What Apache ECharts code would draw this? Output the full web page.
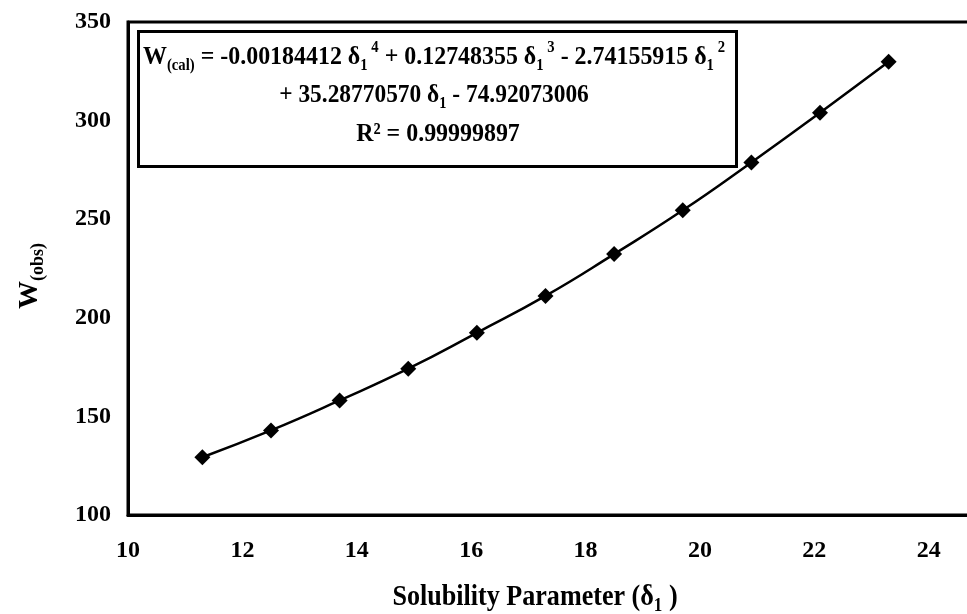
<!DOCTYPE html>
<html>
<head>
<meta charset="utf-8">
<script src="https://cdn.jsdelivr.net/npm/echarts@6/dist/echarts.min.js"></script>
<style>
  html, body { margin: 0; padding: 0; background: #fff; }
  #chart { width: 967px; height: 614px; }
</style>
</head>
<body>
<div id="chart"></div>
<script>
var delta1 = [11.3, 12.5, 13.7, 14.9, 16.1, 17.3, 18.5, 19.7, 20.9, 22.1, 23.3];
var wObs = [129.3, 142.9, 158.1, 174.2, 192.4, 211.1, 232.3, 254.5, 278.8, 304.0, 329.8];

var serif = '"Liberation Serif", "DejaVu Serif", serif';

var chart = echarts.init(document.getElementById('chart'));
var points = delta1.map(function (x, i) { return [x, wObs[i]]; });

// rich styles for the equation box (main text, subscript, superscript)
var eqRich = {
  b: { fontFamily: serif, fontWeight: 'bold', fontSize: 26, color: '#000', lineHeight: 34 },
  sub: { fontFamily: serif, fontWeight: 'bold', fontSize: 16, color: '#000', lineHeight: 14, verticalAlign: 'bottom' },
  sup: { fontFamily: serif, fontWeight: 'bold', fontSize: 16, color: '#000', lineHeight: 16, verticalAlign: 'top' }
};

chart.setOption({
  animation: false,
  grid: {
    left: 128, top: 22, bottom: 99, right: -76,
    outerBoundsMode: 'none',
    containLabel: false,
    show: true, borderColor: '#000', borderWidth: 3, backgroundColor: 'transparent'
  },
  xAxis: {
    type: 'value', min: 10, max: 26, interval: 2,
    axisLine: { show: true, lineStyle: { color: '#000', width: 3 } },
    axisTick: { show: false },
    splitLine: { show: false },
    axisLabel: { color: '#000', fontFamily: serif, fontWeight: 'bold', fontSize: 24, margin: 24 }
  },
  yAxis: {
    type: 'value', min: 100, max: 350, interval: 50,
    axisLine: { show: true, lineStyle: { color: '#000', width: 3 } },
    axisTick: { show: false },
    splitLine: { show: false },
    axisLabel: { color: '#000', fontFamily: serif, fontWeight: 'bold', fontSize: 24, margin: 17 }
  },
  graphic: [
    {
      type: 'rect', left: 137, top: 30,
      shape: { width: 598, height: 135 },
      style: { fill: '#fff', stroke: '#000', lineWidth: 3 }
    },
    {
      type: 'text', x: 143, y: 57, scaleX: 0.92,
      style: {
        text: '{b|W}{sub|(cal)}{b| = -0.00184412 δ}{sub|1}{sup| 4}{b| + 0.12748355 δ}{sub|1}{sup| 3}{b| - 2.74155915 δ}{sub|1}{sup| 2}',
        rich: eqRich, align: 'left', verticalAlign: 'middle'
      }
    },
    {
      type: 'text', x: 434, y: 95, scaleX: 0.9,
      style: {
        text: '{b|+ 35.28770570 δ}{sub|1}{b| - 74.92073006}',
        rich: eqRich, align: 'center', verticalAlign: 'middle'
      }
    },
    {
      type: 'text', x: 438, y: 134, scaleX: 0.92,
      style: {
        text: '{b|R² = 0.99999897}',
        rich: eqRich, align: 'center', verticalAlign: 'middle'
      }
    },
    {
      type: 'text', x: 535, y: 598, scaleX: 0.9,
      style: {
        text: '{b|Solubility Parameter (δ}{sub|1}{b| )}',
        align: 'center', verticalAlign: 'middle',
        rich: {
          b: { fontFamily: serif, fontWeight: 'bold', fontSize: 29, color: '#000', lineHeight: 36 },
          sub: { fontFamily: serif, fontWeight: 'bold', fontSize: 19, color: '#000', lineHeight: 16, verticalAlign: 'bottom' }
        }
      }
    },
    {
      type: 'text', x: 30, y: 276, rotation: Math.PI / 2,
      style: {
        text: '{b|W}{sub|(obs)}',
        align: 'center', verticalAlign: 'middle',
        rich: {
          b: { fontFamily: serif, fontWeight: 'bold', fontSize: 28, color: '#000', lineHeight: 34 },
          sub: { fontFamily: serif, fontWeight: 'bold', fontSize: 18, color: '#000', lineHeight: 16, verticalAlign: 'bottom' }
        }
      }
    }
  ],
  series: [{
    type: 'line',
    data: points,
    smooth: true,
    symbol: 'diamond',
    symbolSize: 16,
    itemStyle: { color: '#000' },
    lineStyle: { color: '#000', width: 2.5 },
    z: 1
  }]
});
</script>
</body>
</html>
